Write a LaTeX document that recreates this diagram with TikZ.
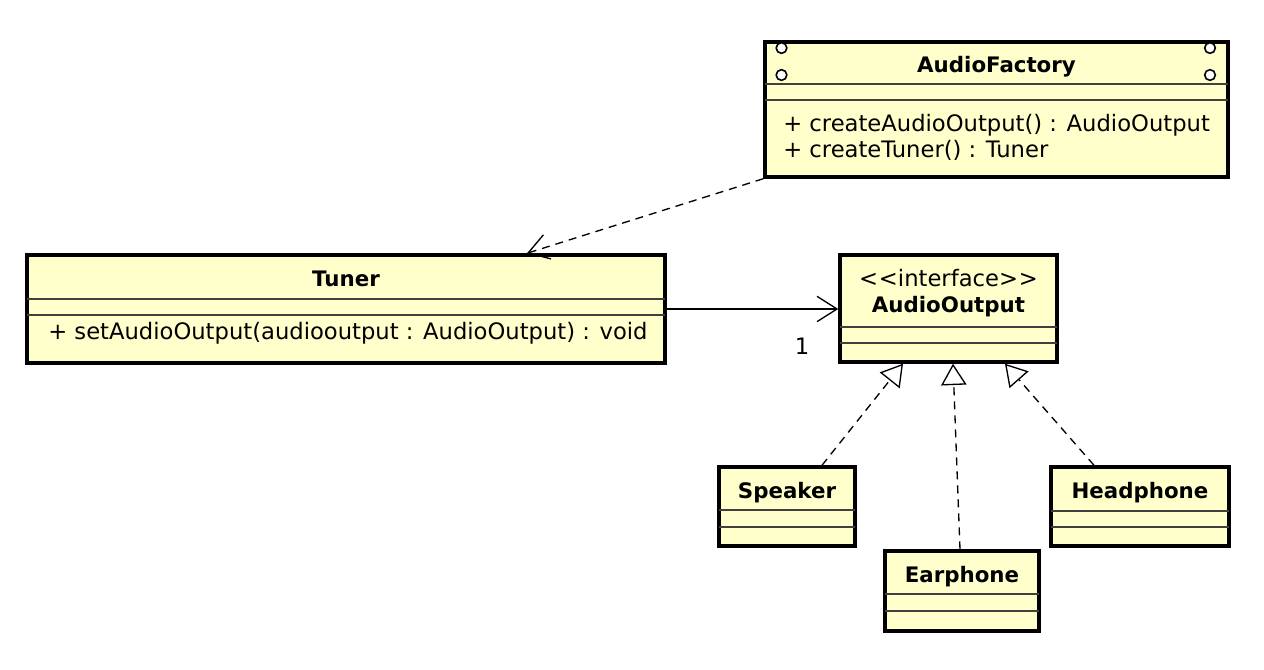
\documentclass[tikz,border=0pt]{standalone}
\usepackage{fontspec}
\setmainfont{DejaVu Sans}
\usepackage{tikz}
\usetikzlibrary{arrows.meta,fit}

\definecolor{classfill}{RGB}{255,255,204}
\newcommand{\clsname}{\fontsize{16}{19}\selectfont\bfseries}
\newcommand{\clsop}{\fontsize{17}{20}\selectfont}

\tikzset{
  classbox/.style={draw=black, line width=2.6pt, fill=classfill, inner sep=0pt},
  divline/.style={draw=black!75, line width=1pt},
  dependency/.style={draw=black, line width=1pt, dash pattern=on 6pt off 4.5pt, -{Straight Barb[length=15pt,width=19pt]}},
  association/.style={draw=black, line width=1pt, -{Straight Barb[length=15pt,width=19pt]}},
  realization/.style={draw=black, line width=1pt, dash pattern=on 6pt off 4.5pt, -{Triangle[open,length=16pt,width=19pt,fill=white]}},
  corner/.style={draw=black, line width=1.2pt, fill=white},
  clsname/.style={anchor=base, inner sep=0.75pt, font=\clsname},
  clsop/.style={anchor=base west, inner sep=0pt, font=\clsop},
}

\begin{document}
\begin{tikzpicture}[x=0.75pt,y=0.75pt,yscale=-1,xscale=1]
\useasboundingbox (0,0) rectangle (1264,670);

%Shape: Class [AudioFactory]
\node [classbox, fit={(765,42) (1228,177)}] (factory) {};
\draw [divline] (765,84) -- (1228,84) ;
\draw [divline] (765,100) -- (1228,100) ;
\draw [corner] (781.5,48) circle [radius=4pt] ;
\draw [corner] (781.5,75) circle [radius=4pt] ;
\draw [corner] (1210,48) circle [radius=4pt] ;
\draw [corner] (1210,75) circle [radius=4pt] ;
%Shape: Class [Tuner]
\node [classbox, fit={(27,255) (665,363)}] (tuner) {};
\draw [divline] (27,299) -- (665,299) ;
\draw [divline] (27,315) -- (665,315) ;
%Shape: Class [AudioOutput]
\node [classbox, fit={(840,255) (1057,362)}] (output) {};
\draw [divline] (840,327) -- (1057,327) ;
\draw [divline] (840,343) -- (1057,343) ;
%Shape: Class [Speaker]
\node [classbox, fit={(719,467) (855,546)}] (speaker) {};
\draw [divline] (719,510) -- (855,510) ;
\draw [divline] (719,527) -- (855,527) ;
%Shape: Class [Earphone]
\node [classbox, fit={(885,551) (1039,631)}] (earphone) {};
\draw [divline] (885,594) -- (1039,594) ;
\draw [divline] (885,611) -- (1039,611) ;
%Shape: Class [Headphone]
\node [classbox, fit={(1051,467) (1229,546)}] (headphone) {};
\draw [divline] (1051,511) -- (1229,511) ;
\draw [divline] (1051,527) -- (1229,527) ;

% Text Node
\node [clsname] (factoryname) at (996.5,73) {AudioFactory};
\node [clsop] (factoryop1) at (783,132) {+ createAudioOutput() : AudioOutput};
\node [clsop] (factoryop2) at (783,158) {+ createTuner() : Tuner};
% Text Node
\node [clsname] (tunername) at (346,287) {Tuner};
\node [clsop] (tunerop) at (48,339.5) {+ setAudioOutput(audiooutput : AudioOutput) : void};
% Text Node
\node [anchor=base, inner sep=0.75pt, font=\clsop] (outputstereo) at (948.5,287) {<\kern0.6pt<interface>\kern0.6pt>};
\node [clsname] (outputname) at (948.5,313) {AudioOutput};
% Text Node
\node [clsname] (speakername) at (787,498) {Speaker};
\node [clsname] (earphonename) at (962,582) {Earphone};
\node [clsname] (headphonename) at (1140,498) {Headphone};

%Straight Lines [dependency]
\draw [dependency] (factory.south west) -- (tuner.north -| 527,0) ;
%Straight Lines [association]
\draw [association] (tuner.east) -- (tuner.east -| output.west) ;
\node [anchor=base, inner sep=0.75pt, font=\clsop] (multone) at (802,354) {1};
%Straight Lines [realization]
\draw [realization] (speaker.north -| 822,0) -- (output.south -| 903,0) ;
\draw [realization] (earphone.north -| 960,0) -- (output.south -| 953,0) ;
\draw [realization] (headphone.north -| 1094,0) -- (output.south -| 1005,0) ;
\end{tikzpicture}
\end{document}
